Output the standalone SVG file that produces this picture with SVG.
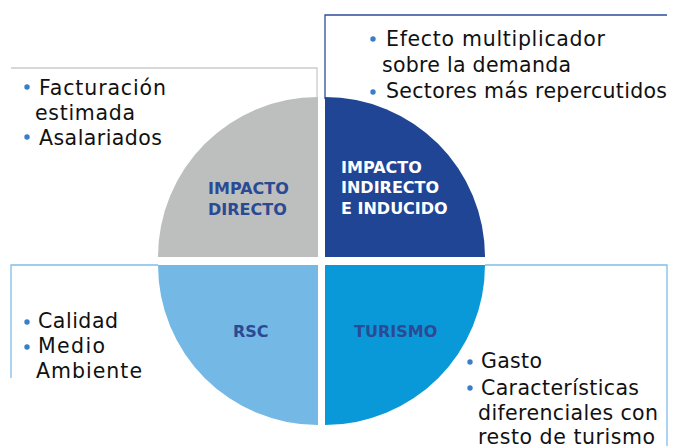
<svg xmlns="http://www.w3.org/2000/svg" width="673" height="446" viewBox="0 0 673 446">
<style>
.body{font-family:"DejaVu Sans","Liberation Sans",sans-serif;font-size:20.5px;fill:#111111}
.lbl{font-family:"DejaVu Sans","Liberation Sans",sans-serif;font-size:16px;font-weight:bold}
.dk{fill:#2A4A93}
.wh{fill:#FFFFFF}
.bul{fill:#3A7DC9}
.ln{fill:none;stroke-width:1.3}
</style>
<rect width="673" height="446" fill="#FFFFFF"/>
<g id="connectors">
<polyline class="ln" stroke="#CBCBCB" points="11,68 317,68 317,99"/>
<polyline class="ln" stroke="#2D4E99" points="325,99 325,15 667,15"/>
<polyline class="ln" stroke="#7DBEEA" points="158,265 11,265 11,378"/>
<polyline class="ln" stroke="#7DBEEA" points="485,265 667,265 667,446"/>
</g>
<g id="impacto-directo">
<path d="M318,257 L158,257 A160,160 0 0 1 318,97 Z" fill="#BDBEBE"/>
<text class="lbl dk" x="208" y="194">IMPACTO</text>
<text class="lbl dk" x="208" y="215">DIRECTO</text>
</g>
<g id="impacto-indirecto">
<path d="M325,257 L325,97 A160,160 0 0 1 485,257 Z" fill="#1F4594"/>
<text class="lbl wh" x="341" y="173">IMPACTO</text>
<text class="lbl wh" x="341" y="193">INDIRECTO</text>
<text class="lbl wh" x="341" y="214">E INDUCIDO</text>
</g>
<g id="rsc">
<path d="M318,265 L318,425 A160,160 0 0 1 158,265 Z" fill="#74B9E6"/>
<text class="lbl dk" x="233" y="337">RSC</text>
</g>
<g id="turismo">
<path d="M325,265 L485,265 A160,160 0 0 1 325,425 Z" fill="#0A99D8"/>
<text class="lbl dk" x="354" y="337">TURISMO</text>
</g>
<g id="text-directo">
<circle class="bul" cx="27" cy="87" r="2.7"/>
<text class="body" x="39" y="95" textLength="127">Facturación</text>
<text class="body" x="35" y="120" textLength="100">estimada</text>
<circle class="bul" cx="27" cy="137" r="2.7"/>
<text class="body" x="39" y="145" textLength="123">Asalariados</text>
</g>
<g id="text-indirecto">
<circle class="bul" cx="373" cy="39" r="2.7"/>
<text class="body" x="386" y="46" textLength="219">Efecto multiplicador</text>
<text class="body" x="382" y="72" textLength="189">sobre la demanda</text>
<circle class="bul" cx="373" cy="92" r="2.7"/>
<text class="body" x="386" y="98" textLength="281">Sectores más repercutidos</text>
</g>
<g id="text-rsc">
<circle class="bul" cx="27" cy="322" r="2.7"/>
<text class="body" x="38" y="328" textLength="80">Calidad</text>
<circle class="bul" cx="27" cy="347" r="2.7"/>
<text class="body" x="38" y="353" textLength="67">Medio</text>
<text class="body" x="36" y="378" textLength="106">Ambiente</text>
</g>
<g id="text-turismo">
<circle class="bul" cx="470" cy="362" r="2.7"/>
<text class="body" x="481" y="368" textLength="61">Gasto</text>
<circle class="bul" cx="470" cy="388" r="2.7"/>
<text class="body" x="481" y="395" textLength="158">Características</text>
<text class="body" x="478" y="420" textLength="180">diferenciales con</text>
<text class="body" x="478" y="444" textLength="177">resto de turismo</text>
</g>
</svg>
